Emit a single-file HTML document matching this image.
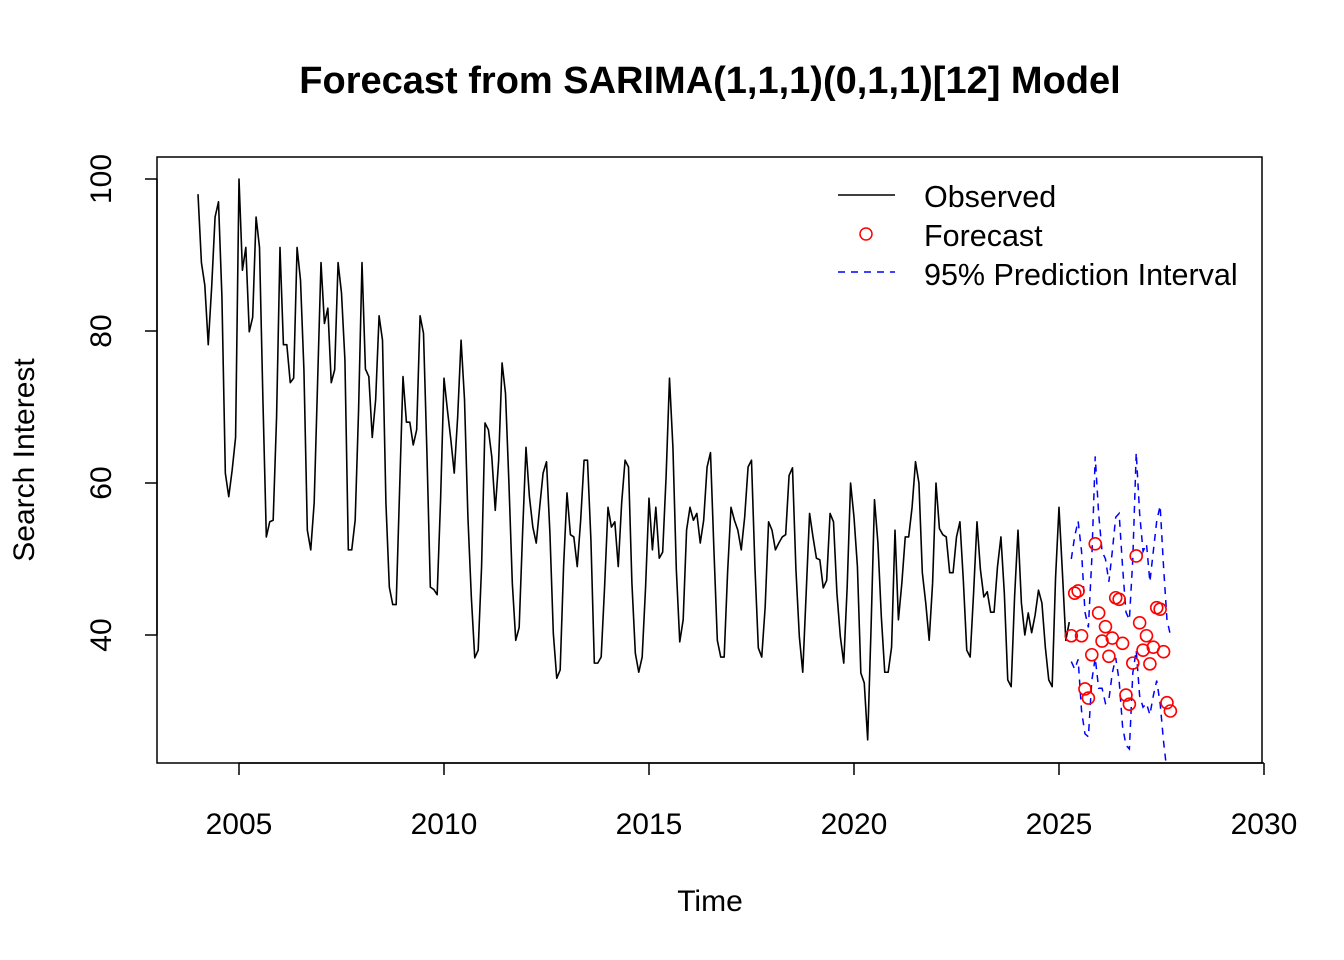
<!DOCTYPE html>
<html><head><meta charset="utf-8"><style>
html,body{margin:0;padding:0;background:#fff;}
svg{display:block;font-family:"Liberation Sans",Arial,sans-serif;}
</style></head><body>
<svg id="chart" width="1344" height="960" viewBox="0 0 1344 960" xmlns="http://www.w3.org/2000/svg">
<rect width="1344" height="960" fill="#fff"/>
<defs><clipPath id="plotclip"><rect x="157" y="157" width="1105" height="606"/></clipPath></defs>
<text x="710" y="93" text-anchor="middle" font-size="38" font-weight="bold">Forecast from SARIMA(1,1,1)(0,1,1)[12] Model</text>
<rect x="157" y="157" width="1105" height="606" fill="none" stroke="#000" stroke-width="1.5"/>
<g id="xaxis"></g>
<g id="yaxis"></g>
<text x="710" y="911" text-anchor="middle" font-size="30">Time</text>
<text transform="translate(34,460) rotate(-90)" text-anchor="middle" font-size="30">Search Interest</text>
<g id="series" clip-path="url(#plotclip)"></g>
<g>
<line x1="838" y1="195" x2="895" y2="195" stroke="#000" stroke-width="1.5"/>
<text x="924" y="207" font-size="30.5">Observed</text>
<circle cx="866" cy="234" r="6" fill="none" stroke="#f00" stroke-width="1.5"/>
<text x="924" y="246" font-size="30.5">Forecast</text>
<line x1="838" y1="272" x2="895" y2="272" stroke="#00f" stroke-width="1.5" stroke-dasharray="7,6"/>
<text x="924" y="285" font-size="30.5">95% Prediction Interval</text>
</g>
</svg>
<script>
const obsStart = 2004;
const observed = [98,89,86,78.2,85.8,95,97,84.5,61.3,58.2,61.7,66,
100,88,91,79.9,81.8,95,91,70.9,52.9,54.9,55.1,68.7,
91,78.2,78.2,73.2,73.8,91,86.7,74.9,53.8,51.2,57.4,73.2,
89,81,83,73.2,74.9,89,85,76.2,51.2,51.2,55.1,69.6,
89,75,74,66,71,82,78.8,57.4,46.3,44,44,59,
74,68,68,65,67,82,79.7,64,46.3,46,45.3,57.8,
73.8,69.6,65.7,61.3,68.7,78.8,71,55.5,45,37,38,49,
67.9,67,63.4,56.4,63,75.8,71.8,60,46.8,39.3,41,53.4,
64.7,58.2,54.2,52.1,56.8,61.3,62.8,53.4,40.2,34.3,35.4,49,
58.7,53.2,52.9,49,55.1,63,63,52.5,36.3,36.3,37.1,46.3,
56.8,54.2,54.9,49,57.4,63,62.1,46.8,37.6,35.1,37.1,46.3,
58,51.2,56.8,50.1,50.9,60.8,73.8,64.7,48.6,39.1,42,53.8,
56.8,55.1,56,52.1,55.1,62.1,64,51.2,39.3,37.1,37.1,48.2,
56.8,55.1,53.8,51.2,55.5,62.1,63,49,38.3,37.1,43.7,54.9,
53.8,51.2,52.1,52.9,53.2,61,62,48.6,39.8,35.1,45.5,56,
52.9,50.1,49.9,46.2,47.2,56,54.9,45.5,39.8,36.3,46.3,60,
55.5,49,35,33.7,26.2,41,57.8,52.1,42.4,35.1,35.1,38.4,
53.8,42,46.8,52.9,52.9,56.8,62.8,60,48.2,44.2,39.3,46.8,
60,54,53.2,52.9,48.2,48.2,52.9,54.9,47.2,38,37.1,45.5,
54.9,48.6,45,45.7,43,43,49,52.9,45.5,34.1,33.2,45,
53.8,44.2,40,42.9,40.3,42.6,45.9,44.2,38.4,34.1,33.2,47.6,
56.8,48.2,39.3,41.7];
const fcStart = 2025 + 3.6/12;
const forecast = [39.9,45.5,45.8,39.9,32.9,31.7,37.4,52.0,42.9,39.2,41.1,37.2,
39.6,44.9,44.7,38.9,32.1,30.9,36.3,50.4,41.6,38.0,39.9,36.2,38.4,43.6,43.4,37.8,31.1,30.0];
const upper = [50,53,55,51,43,41,50,63.5,56,51,50,47,
51,55.5,56,49,43,42,50,64,56,51,52,47,51,55,57,49,42,40];
const lower = [36.5,35.5,36.8,30,27,26.6,34,37,33,33,31,31.5,
35,37,34,28,25.5,25,35,38,32,30.5,31,29.5,32,34,31,26,22,20];
const xTicks = [2005,2010,2015,2020,2025,2030];
const yTicks = [40,60,80,100];

const NS = 'http://www.w3.org/2000/svg';
function X(t){ return 239 + (t-2005)*41; }
function Y(v){ return 635 - (v-40)*7.6; }
function mk(tag, attrs, parent){ const e=document.createElementNS(NS,tag); for(const k in attrs) e.setAttribute(k,attrs[k]); parent.appendChild(e); return e; }

const xa = document.getElementById('xaxis');
mk('line',{x1:X(xTicks[0]),y1:763,x2:X(xTicks[xTicks.length-1]),y2:763,stroke:'#000','stroke-width':1.5},xa);
xTicks.forEach(t=>{
  const l = mk('line',{x1:X(t),y1:763,x2:X(t),y2:775,stroke:'#000','stroke-width':1.5},xa);
  
  
  const tx = mk('text',{x:X(t),y:834,'text-anchor':'middle','font-size':30},xa);
  
  
  tx.textContent = t;
});
const ya = document.getElementById('yaxis');
mk('line',{x1:157,y1:Y(yTicks[0]),x2:157,y2:Y(yTicks[yTicks.length-1]),stroke:'#000','stroke-width':1.5},ya);
yTicks.forEach(v=>{
  const l = mk('line',{x1:145,y1:Y(v),x2:157,y2:Y(v),stroke:'#000','stroke-width':1.5},ya);
  
  
  const tx = mk('text',{transform:`translate(111,${Y(v)}) rotate(-90)`,'text-anchor':'middle','font-size':30},ya);
  
  
  tx.textContent = v;
});

const sg = document.getElementById('series');
const obsPts = observed.map((v,i)=>X(obsStart+i/12).toFixed(2)+','+Y(v).toFixed(2)).join(' ');
const obsLine = mk('polyline',{points:obsPts,fill:'none',stroke:'#000','stroke-width':1.6,'stroke-linejoin':'round'},sg);



const upPts = upper.map((v,i)=>X(fcStart+i/12).toFixed(2)+','+Y(v).toFixed(2)).join(' ');
const upLine = mk('polyline',{points:upPts,fill:'none',stroke:'#00f','stroke-width':1.5,'stroke-dasharray':'7,6'},sg);


const loPts = lower.map((v,i)=>X(fcStart+i/12).toFixed(2)+','+Y(v).toFixed(2)).join(' ');
const loLine = mk('polyline',{points:loPts,fill:'none',stroke:'#00f','stroke-width':1.5,'stroke-dasharray':'7,6'},sg);



forecast.forEach((v,i)=>{
  const c = mk('circle',{cx:X(fcStart+i/12),cy:Y(v),r:6,fill:'none',stroke:'#f00','stroke-width':1.6},sg);
  
  
});
</script>
</body></html>
